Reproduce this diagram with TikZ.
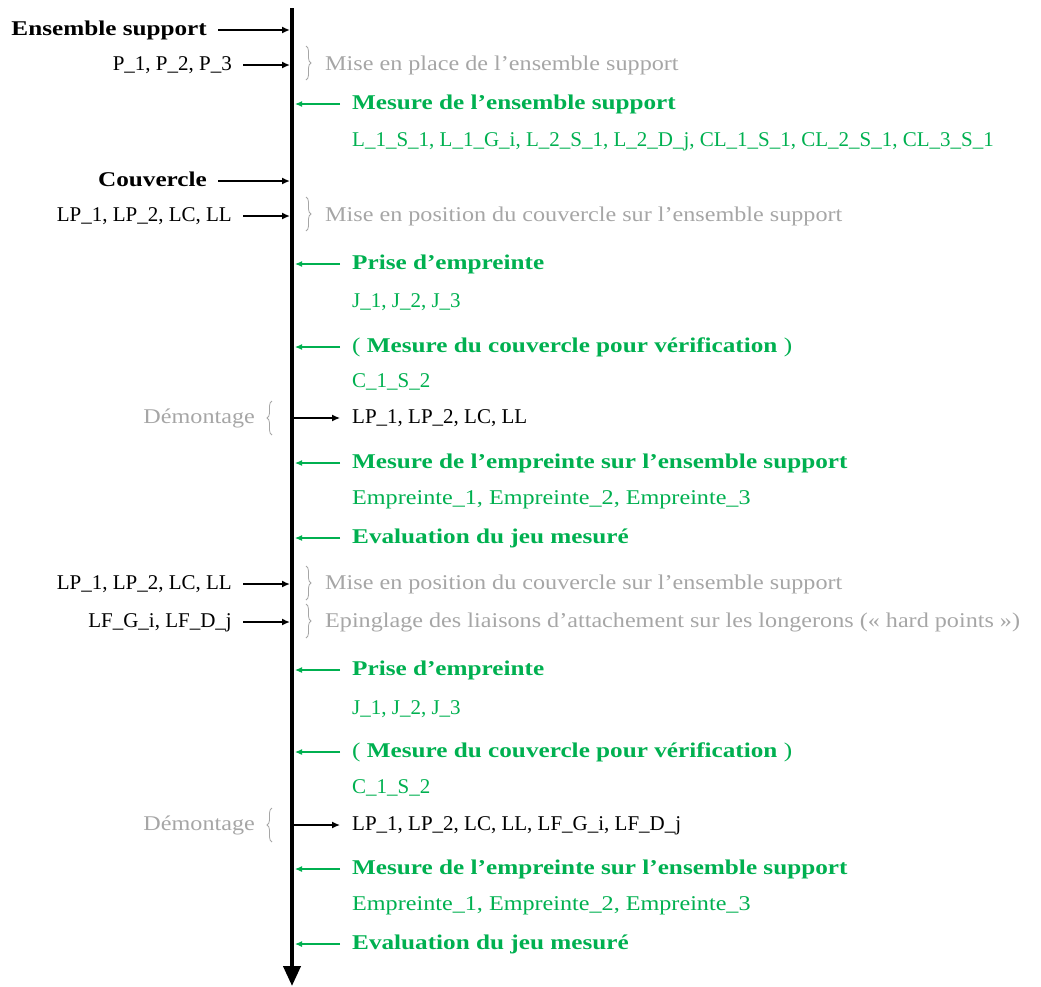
\documentclass[tikz,border=0pt]{standalone}
\usepackage{fontspec}
\setmainfont{Liberation Serif}[FakeStretch=1.15]
\newfontfamily\headfont{Liberation Serif}[FakeStretch=1.2]
\newfontfamily\codefont{Liberation Serif}
\usepackage{tikz}
\usetikzlibrary{arrows.meta, positioning, decorations.pathreplacing}
\definecolor{stepgreen}{HTML}{00B050}
\definecolor{notegray}{HTML}{A6A6A6}
\tikzstyle{inarrow} = [line width=1.6pt, -{Latex[length=8pt,width=7pt]}, black, shorten <=11pt, shorten >=2pt]
\tikzstyle{measarrow} = [line width=1.1pt, -{Latex[length=7pt,width=6pt]}, color=stepgreen, shorten <=12pt, shorten >=3pt]
\tikzstyle{outarrow} = [line width=1.3pt, -{Latex[length=8pt,width=7pt]}, black, shorten <=2pt, shorten >=12pt]
\tikzstyle{notebrace} = [decorate, decoration={brace, amplitude=5pt}, color=notegray, line width=0.8pt]
\tikzstyle{partlabel} = [anchor=east, text=black, font=\fontsize{21}{25}\codefont]
\tikzstyle{headlabel} = [anchor=east, text=black, font=\fontsize{21}{25}\headfont\bfseries]
\tikzstyle{notelabel} = [anchor=west, text=notegray]
\tikzstyle{measlabel} = [anchor=west, text=stepgreen, font=\fontsize{21}{25}\headfont\bfseries]
\tikzstyle{datalabel} = [anchor=west, text=stepgreen, font=\fontsize{21}{25}\codefont]

\begin{document}
\begin{tikzpicture}[x=1pt, y=-1pt, every node/.style={inner sep=0pt, text height=14pt, text depth=4pt, font=\fontsize{21}{25}\selectfont}]
    \useasboundingbox (0,0) rectangle (1041,986);
    % time axis
    \coordinate (top) at (292,8);
    \coordinate (bot) at (292,986);
    \draw[line width=4pt, -{Triangle[length=20pt,width=17pt]}] (top) -- (bot);

    % first assembly
    \node[headlabel] (ens) at (207,30) {Ensemble support};
    \node[partlabel] (p1) at (232,65) {P\_1, P\_2, P\_3};
    \node[notelabel] (n1) at (325,65) {Mise en place de l’ensemble support};
    \node[measlabel] (m1) at (352,104) {Mesure de l’ensemble support};
    \node[datalabel] (d1) at (352,141) {L\_1\_S\_1, L\_1\_G\_i, L\_2\_S\_1, L\_2\_D\_j, CL\_1\_S\_1, CL\_2\_S\_1, CL\_3\_S\_1};
    \node[headlabel] (cov) at (207,181) {Couvercle};
    \node[partlabel] (p2) at (232,216) {LP\_1, LP\_2, LC, LL};
    \node[notelabel] (n2) at (325,216) {Mise en position du couvercle sur l’ensemble support};
    \node[measlabel] (m2) at (352,264) {Prise d’empreinte};
    \node[datalabel] (d2) at (352,302) {J\_1, J\_2, J\_3};
    \node[measlabel] (m3) at (352,347) {\mdseries(\bfseries{} Mesure du couvercle pour vérification \mdseries)};
    \node[datalabel] (d3) at (352,382) {C\_1\_S\_2};
    \node[anchor=east, text=notegray] (dem1) at (255,418) {Démontage};
    \node[anchor=west, font=\fontsize{21}{25}\codefont] (o1) at (352,418) {LP\_1, LP\_2, LC, LL};
    \node[measlabel] (m4) at (352,463) {Mesure de l’empreinte sur l’ensemble support};
    \node[anchor=west, text=stepgreen] (d4) at (352,499) {Empreinte\_1, Empreinte\_2, Empreinte\_3};
    \node[measlabel] (m5) at (352,538) {Evaluation du jeu mesuré};

    % second assembly
    \node[partlabel] (p3) at (232,584) {LP\_1, LP\_2, LC, LL};
    \node[notelabel] (n3) at (325,584) {Mise en position du couvercle sur l’ensemble support};
    \node[partlabel] (p4) at (232,622) {LF\_G\_i, LF\_D\_j};
    \node[notelabel] (n4) at (325,622) {Epinglage des liaisons d’attachement sur les longerons («~hard points~»)};
    \node[measlabel] (m6) at (352,670) {Prise d’empreinte};
    \node[datalabel] (d6) at (352,709) {J\_1, J\_2, J\_3};
    \node[measlabel] (m7) at (352,752) {\mdseries(\bfseries{} Mesure du couvercle pour vérification \mdseries)};
    \node[datalabel] (d7) at (352,788) {C\_1\_S\_2};
    \node[anchor=east, text=notegray] (dem2) at (255,825) {Démontage};
    \node[anchor=west, font=\fontsize{21}{25}\codefont] (o2) at (352,825) {LP\_1, LP\_2, LC, LL, LF\_G\_i, LF\_D\_j};
    \node[measlabel] (m8) at (352,869) {Mesure de l’empreinte sur l’ensemble support};
    \node[anchor=west, text=stepgreen] (d8) at (352,905) {Empreinte\_1, Empreinte\_2, Empreinte\_3};
    \node[measlabel] (m9) at (352,944) {Evaluation du jeu mesuré};

    % arrows onto the axis
    \foreach \p in {ens, p1, cov, p2, p3, p4}
        \draw[inarrow] (\p) -- (\p -| top);
    \foreach \m in {m1, m2, m3, m4, m5, m6, m7, m8, m9}
        \draw[measarrow] (\m) -- (\m -| top);
    \foreach \o in {o1, o2}
        \draw[outarrow] (\o -| top) -- (\o);

    % braces
    \draw[notebrace] (306,46) -- (306,80);
    \draw[notebrace] (306,197) -- (306,231);
    \draw[notebrace] (306,566) -- (306,600);
    \draw[notebrace] (306,604) -- (306,638);
    \draw[notebrace] (272,435) -- (272,401);
    \draw[notebrace] (272,842) -- (272,808);
\end{tikzpicture}
\end{document}
